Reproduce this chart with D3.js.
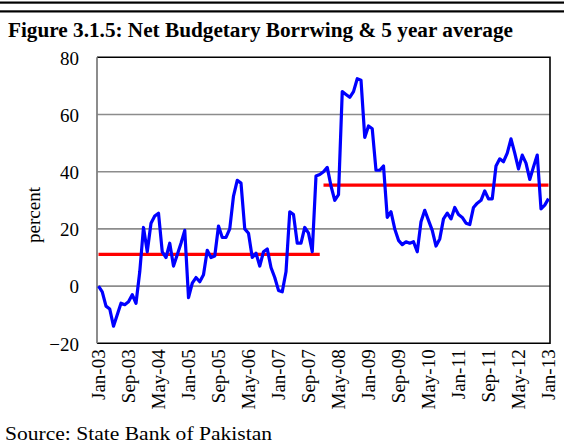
<!DOCTYPE html>
<html><head><meta charset="utf-8">
<script src="https://cdn.jsdelivr.net/npm/d3@7"></script>
<style>body{margin:0;background:#fff}svg{display:block}</style>
</head><body><svg id="c" width="564" height="443"></svg>
<script>
// ---- data ----
const startMonth = new Date(2003, 0, 1);
const monthCount = 121;
const categories = d3.timeMonth.range(startMonth, d3.timeMonth.offset(startMonth, monthCount)).map(d3.timeFormat("%b-%y"));
const tickLabels = ["Jan-03","Sep-03","May-04","Jan-05","Sep-05","May-06","Jan-07","Sep-07","May-08","Jan-09","Sep-09","May-10","Jan-11","Sep-11","May-12","Jan-13"];
const yTicks = [-20, 0, 20, 40, 60, 80];
const borrowing = [
  0,-2,-7,-8,-14,-10,-6,-6.5,-5.5,-3,-6,5,
  20.5,12,22,24.5,25.5,12,10,15,7,11,15,19.5,
  -4,1,3,1.5,4,12.5,10,10.5,21,17,17,20,
  31.5,37,36,20,18.5,10,11.5,7,12,13,6.5,3,
  -1.5,-2,5,26,25,15,15,20.5,18.5,12,38.5,39,
  40,41.5,35,30,32,68,67,66,68,72.5,72,52,
  56,55,40.5,40.5,42,24,26,20,16,14.5,15.5,15,
  15.5,12,22.5,26.5,23,19.5,14,16.5,23.5,25.5,23.5,27.5,
  25,24,22,21.5,27.5,29,30,33.3,30.5,30.5,42,44.5,
  43.5,46.5,51.5,46.5,41,45.8,43,37.3,41.7,45.8,27,28.3,
  30.6
];
const avgStart = ["Jan-03", "Jan-08"];
const avgEnd = ["Dec-07", "Jan-13"];
const avgValue = [11.1, 35.3];

// ---- drawing ----
const svg = d3.select("#c");
const serif = "'Liberation Serif','Times New Roman',serif";
const L = 97, R = 550, T = 57.3, B = 343.3;

const x = d3.scalePoint().domain(categories).range([98.5, 548.5]);
const y = d3.scaleLinear().domain([-20, 80]).range([B, T]);

// top double rule
svg.append("rect").attr("x",0).attr("y",1.5).attr("width",564).attr("height",2.2).attr("fill","#000");
svg.append("rect").attr("x",0).attr("y",10.3).attr("width",564).attr("height",2.2).attr("fill","#000");

// title
svg.append("text").attr("x",8).attr("y",37)
  .attr("font-family",serif).attr("font-weight","bold").attr("font-size",20.5)
  .attr("textLength",505).attr("lengthAdjust","spacingAndGlyphs")
  .text("Figure 3.1.5: Net Budgetary Borrwing & 5 year average");

// gridlines
svg.append("g").selectAll("line").data(yTicks.filter(v => v > -20 && v < 80)).join("line")
  .attr("x1",L).attr("x2",R).attr("y1",d=>y(d)).attr("y2",d=>y(d))
  .attr("stroke","#8c8c8c").attr("stroke-width",1.6);

// plot border
svg.append("path").attr("d",`M${L},${T}H${R}V${B}H${L}`).attr("fill","none").attr("stroke","#000").attr("stroke-width",1.6);
svg.append("line").attr("x1",L).attr("x2",L).attr("y1",T).attr("y2",B).attr("stroke","#808080").attr("stroke-width",1.8);

// y axis labels
const yAxis = d3.axisLeft(y).tickValues(yTicks).tickSize(0).tickPadding(0);
const gy = svg.append("g").attr("transform",`translate(79,0)`).call(yAxis);
gy.select(".domain").remove();
gy.selectAll("text").attr("font-family",serif).attr("font-size",19).attr("fill","#000").attr("dy","0.36em");

// y title
svg.append("text").attr("transform",`translate(40,215) rotate(-90)`).attr("text-anchor","middle")
  .attr("font-family",serif).attr("font-size",19).text("percent");

// x axis labels
const xAxis = d3.axisBottom(x).tickValues(tickLabels).tickSize(0).tickPadding(0);
const gx = svg.append("g").attr("transform",`translate(0,${B})`).call(xAxis);
gx.select(".domain").remove();
gx.selectAll("text").attr("font-family",serif).attr("font-size",19).attr("fill","#000")
  .attr("text-anchor","end").attr("transform","rotate(-90)").attr("x",-6).attr("y",0).attr("dy","0.33em");

// average lines
svg.append("g").selectAll("line").data(avgValue).join("line")
  .attr("x1",(d,i)=>x(avgStart[i])).attr("x2",(d,i)=>x(avgEnd[i]))
  .attr("y1",d=>y(d)).attr("y2",d=>y(d))
  .attr("stroke","#ff0000").attr("stroke-width",3.2);

// main line
svg.append("path").datum(borrowing)
  .attr("d", d3.line().x((d,i)=>x(categories[i])).y(d=>y(d)))
  .attr("fill","none").attr("stroke","#0000ff").attr("stroke-width",3.2).attr("stroke-linejoin","round");

// source
svg.append("text").attr("x",5).attr("y",440)
  .attr("font-family",serif).attr("font-size",18)
  .attr("textLength",267).attr("lengthAdjust","spacingAndGlyphs")
  .text("Source: State Bank of Pakistan");
</script></body></html>
